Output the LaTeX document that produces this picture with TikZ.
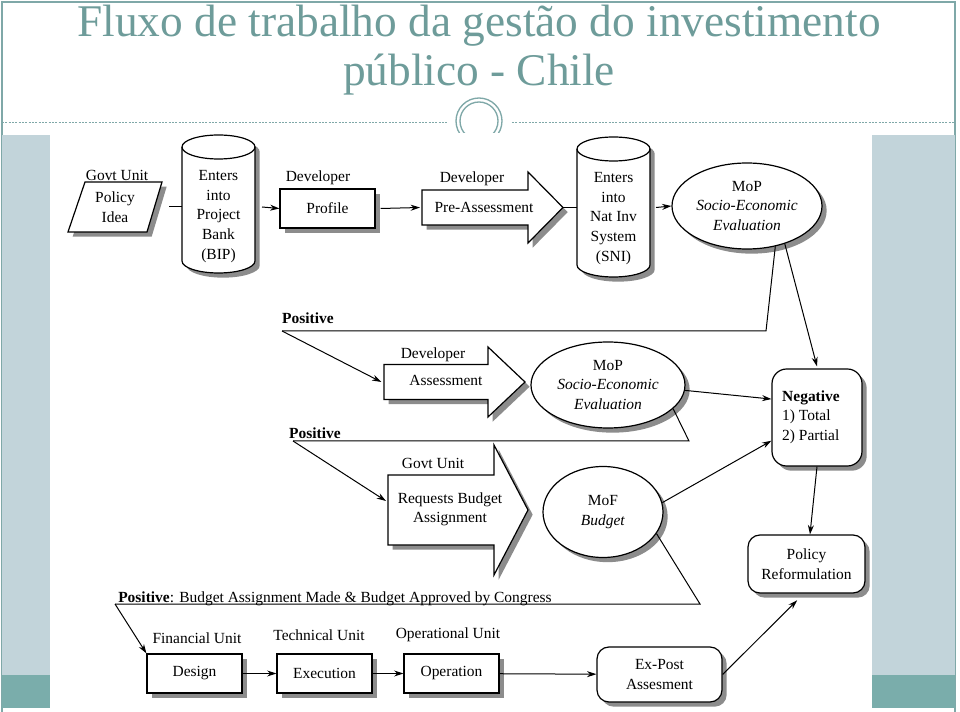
\documentclass[tikz,border=0pt]{standalone}
\usepackage{fontspec}
\setmainfont{Liberation Serif}
\usetikzlibrary{arrows.meta,shadows,shapes.geometric}
\definecolor{ttl}{HTML}{6E9C9A}
\definecolor{frm}{HTML}{7FA8A8}
\definecolor{stripL}{HTML}{C2D4DA}
\definecolor{stripT}{HTML}{7AADAB}
\newcommand\dg{\fontsize{11.6}{14.7}\selectfont}
\tikzset{
  shd/.style={drop shadow={shadow xshift=3.5pt, shadow yshift=-3.5pt, fill=black!45, opacity=1}},
  shape line/.style={draw=black, line width=0.9pt, fill=white, shd},
  txt/.style={font=\dg, inner sep=0pt, align=center},
  boxn/.style={shape line, rectangle, inner sep=0pt, font=\dg, align=center},
  elln/.style={shape line, ellipse, inner sep=0pt, font=\dg, align=center},
  conn/.style={line width=0.75pt},
  arr/.style={conn, -{Stealth[length=7pt, width=4.5pt]}},
}
% x1 x2 xtip yc body-half head-half
\newcommand\fatarrow[6]{%
  \filldraw[shape line] (#1,{#4-#5}) -- (#2,{#4-#5}) -- (#2,{#4-#6}) -- (#3,#4)
    -- (#2,{#4+#6}) -- (#2,{#4+#5}) -- (#1,{#4+#5}) -- cycle;}
% x1 x2 ytop ybot
\newcommand\cyl[4]{%
  \filldraw[shape line] (#1,{#3+12}) -- (#1,{#4-12})
    arc[start angle=180, end angle=0, x radius={(#2-#1)/2}, y radius=12]
    -- (#2,{#3+12})
    arc[start angle=0, end angle=-180, x radius={(#2-#1)/2}, y radius=12] -- cycle;
  \draw[line width=0.9pt] (#1,{#3+12})
    arc[start angle=180, end angle=0, x radius={(#2-#1)/2}, y radius=12];}
\begin{document}
\begin{tikzpicture}[x=0.75pt, y=-0.75pt]
\useasboundingbox (0,0) rectangle (960,712);
\fill[white] (0,0) rectangle (960,712);
% slide frame
\draw[frm, line width=0.8pt] (2,712) -- (2,2) -- (955,2) -- (955,712);
\draw[frm, line width=0.6pt, dash pattern=on 1.5pt off 1pt] (2,122) -- (447,122);
\draw[frm, line width=0.6pt, dash pattern=on 1.5pt off 1pt] (512,122) -- (955,122);
\draw[frm, line width=1pt] (479,121) circle[radius=23];
\draw[frm, line width=1pt] (479,121) circle[radius=19];
\fill[white] (50,133) rectangle (872,712);
\fill[stripL] (2,135) rectangle (50,675);
\fill[stripT] (2,675) rectangle (50,708);
\fill[stripL] (872,135) rectangle (955,675);
\fill[stripT] (872,675) rectangle (955,708);
% title
\node[ttl, font=\fontsize{34}{40}\selectfont, anchor=base, inner sep=0pt] (t1) at (479,37) {Fluxo de trabalho da gestão do investimento};
\node[ttl, font=\fontsize{34}{40}\selectfont, anchor=base, inner sep=0pt] (t2) at (479,86) {público - Chile};

% ---- row 1
\node[txt] (govtA) at (117,175) {Govt Unit};
\filldraw[shape line] (85,182) -- (162,182) -- (147,232) -- (68,232) -- cycle;
\node[txt] (policy) at (115,207) {Policy\\Idea};
\coordinate (polR) at (169,207);
\cyl{182}{255}{135}{273}
\node[txt] (bip) at (218.5,216.5) {Enters\\into\\Project\\Bank\\(BIP)};
\coordinate (bipL) at (182,207);
\coordinate (bipR) at (255,207);
\node[txt] (devA) at (318,178) {Developer};
\node[boxn, minimum width=71.25pt, minimum height=29.25pt] (profile) at (327.5,208.5) {Profile};
\fatarrow{422}{528}{563}{207.5}{17.5}{35.5}
\coordinate (preL) at (422,207.5);
\coordinate (preTip) at (563,207.5);
\node[txt] (devB) at (472,179) {Developer};
\node[txt] (pre) at (484,207) {Pre-Assessment};
\cyl{577}{650}{137}{277}
\node[txt] (sni) at (613.5,218.5) {Enters\\into\\Nat Inv\\System\\(SNI)};
\coordinate (sniL) at (577,207.5);
\coordinate (sniR) at (650,207.5);
\node[elln, minimum width=112.5pt, minimum height=64.5pt] (mop1) at (747,206) {MoP\\\textit{Socio-Economic}\\\textit{Evaluation}};

% ---- right column
\node[boxn, rounded corners=11pt, minimum width=67.5pt, minimum height=72.75pt] (neg) at (817,417.5) {};
\node[txt, align=left] (negt) at (811,417) {\textbf{Negative}\\1) Total\\2) Partial};
\node[boxn, rounded corners=9pt, minimum width=87.75pt, minimum height=43.5pt] (pref) at (806.5,564) {Policy\\Reformulation};

% ---- row 2
\node[txt, font=\dg\bfseries] (pos1) at (308,318) {Positive};
\coordinate (c1) at (282,331);
\coordinate (c1r) at (766,331);
\fatarrow{384}{488}{525}{382}{17.5}{35}
\coordinate (assL) at (384,382);
\node[txt] (devC) at (433,355) {Developer};
\node[txt] (ass) at (446,380) {Assessment};
\node[elln, minimum width=115.5pt, minimum height=64.5pt] (mop2) at (608,385) {MoP\\\textit{Socio-Economic}\\\textit{Evaluation}};

% ---- row 3
\node[txt, font=\dg\bfseries] (pos2) at (315,433) {Positive};
\coordinate (c2) at (293,441);
\coordinate (c2r) at (689,441);
\fatarrow{388}{494}{528}{510}{35}{65}
\coordinate (govL) at (388,501);
\node[txt] (govtB) at (433,463) {Govt Unit};
\node[txt] (req) at (450,509.5) {Requests Budget\\Assignment};
\node[elln, minimum width=90pt, minimum height=68.25pt] (mof) at (603,512) {MoF\\\textit{Budget}};

% ---- bottom row
\node[txt, anchor=base west] (pos3) at (118,602) {\textbf{Positive}: Budget Assignment Made \& Budget Approved by Congress};
\coordinate (c3) at (115,604);
\coordinate (c3r) at (700,604);
\node[txt] (finU) at (197,638) {Financial Unit};
\node[txt] (tecU) at (319,635) {Technical Unit};
\node[txt] (opU) at (448,635) {Operational Unit};
\node[boxn, minimum width=71.25pt, minimum height=29.25pt] (design) at (194.5,673.5) {Design};
\node[boxn, minimum width=71.25pt, minimum height=29.25pt] (exec) at (324.5,673.5) {Execution};
\node[boxn, minimum width=71.25pt, minimum height=29.25pt] (oper) at (451.5,673.5) {Operation};
\node[boxn, rounded corners=9pt, minimum width=93.75pt, minimum height=41.25pt] (expost) at (659.5,674.5) {Ex-Post\\Assesment};

% ---- connectors
\draw[conn] (polR) -- (bipL);
\draw[arr] ([xshift=5.25pt]bipR) -- (profile.west);
\draw[arr] ([xshift=3.75pt]profile.east) -- ([xshift=-1.5pt]preL);
\draw[conn] (preTip) -- (sniL);
\draw[arr] ([xshift=4.5pt]sniR) -- (mop1.west);
\draw[conn] (mop1.-55) -- (c1r) -- (c1);
\draw[arr] (c1) -- ([xshift=-2pt]assL);
\draw[arr] (mop1.-45) -- ([yshift=1.5pt]neg.north);
\draw[arr] (mop2.-4) -- (neg.158);
\draw[conn] (mop2.-20) -- (c2r) -- (c2);
\draw[arr] (c2) -- ([xshift=-1.5pt]govL);
\draw[arr] (mof.9) -- (neg.207);
\draw[conn] (mof.-22) -- (c3r) -- (c3);
\draw[arr] (c3) -- (design.north west);
\draw[arr] (neg.south) -- ([xshift=2.6pt]pref.north);
\draw[arr] (design) -- (exec);
\draw[arr] (exec) -- (oper);
\draw[arr] (oper) -- (expost);
\draw[arr] (expost.east) -- ([xshift=-7pt, yshift=-5pt]pref.south);
\end{tikzpicture}
\end{document}
